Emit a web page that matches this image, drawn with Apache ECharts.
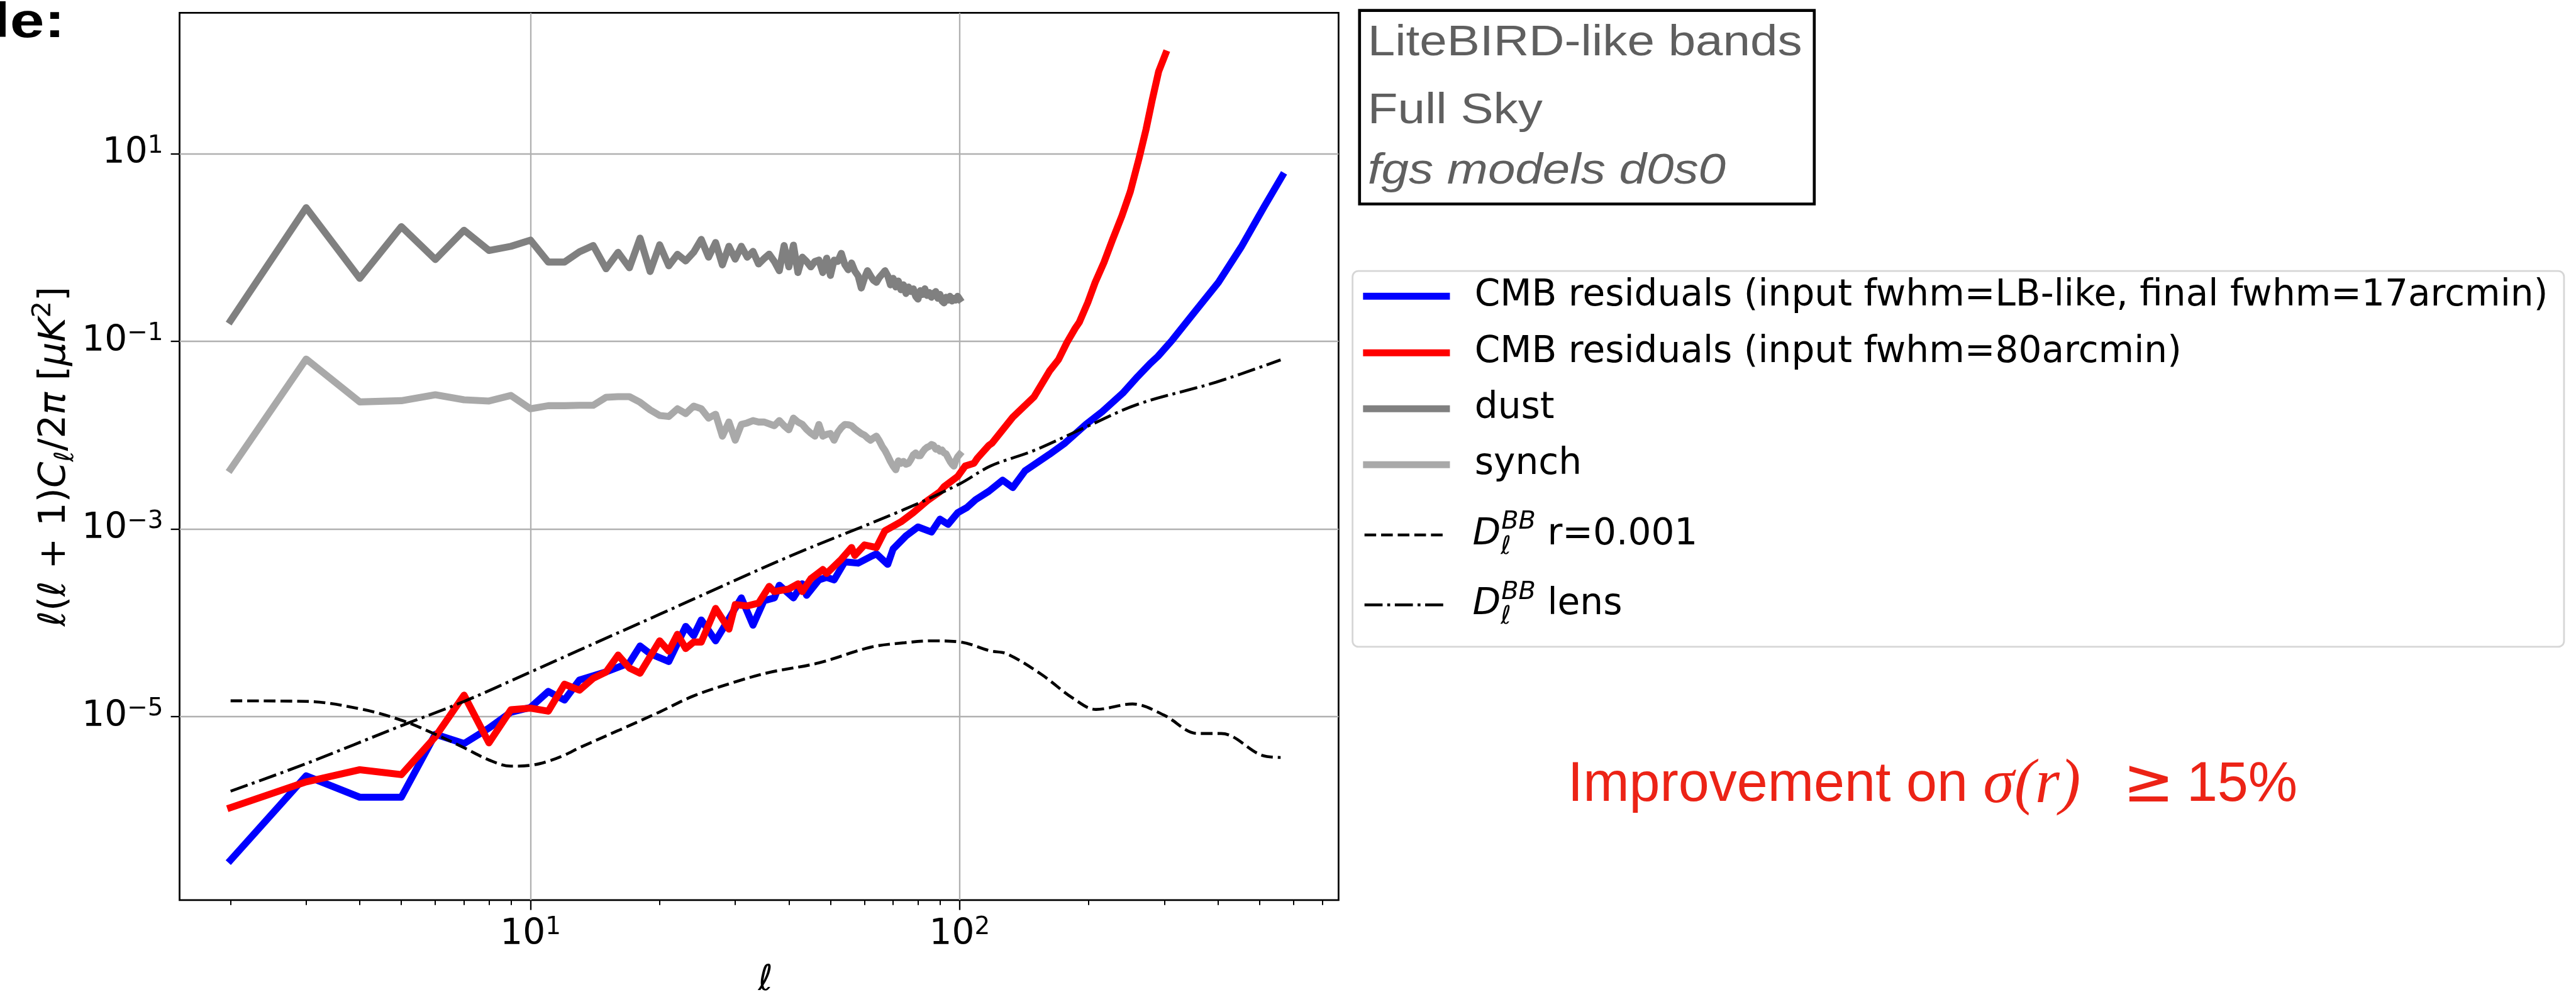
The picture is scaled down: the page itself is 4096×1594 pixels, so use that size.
<!DOCTYPE html>
<html>
<head>
<meta charset="utf-8">
<script src="https://cdn.jsdelivr.net/npm/echarts@6/dist/echarts.min.js"></script>
<style>
  html, body { margin: 0; padding: 0; background: #ffffff; }
  #chart { width: 4096px; height: 1594px; }
</style>
</head>
<body>
<div id="chart"></div>
<script>
// ---------------------------------------------------------------------------
// BB power spectra: CMB residuals vs. foregrounds and theory curves
// ---------------------------------------------------------------------------

// Foreground spectra are given at every multipole 2..100
const fgEll = [];
for (let l = 2; l <= 100; l++) fgEll.push(l);

const dustVal = [0.166, 2.66, 0.469, 1.67, 0.745, 1.53, 0.931, 1.03, 1.20, 0.70,
  0.70, 0.90, 1.05, 0.594, 0.889, 0.608, 1.26, 0.556, 1.07, 0.638,
  0.847, 0.72, 0.89, 1.22, 0.79, 1.13, 0.653, 1.03, 0.753, 1.03,
  0.79, 0.91, 0.668, 0.76, 0.85, 0.71, 0.566, 1.05, 0.622, 1.06,
  0.541, 0.79, 0.71, 0.622, 0.71, 0.736, 0.541, 0.77, 0.504, 0.734,
  0.71, 0.867, 0.66, 0.58, 0.684, 0.56, 0.50, 0.37, 0.47, 0.566,
  0.50, 0.447, 0.426, 0.48, 0.52, 0.566, 0.50, 0.40, 0.47, 0.38,
  0.44, 0.355, 0.40, 0.324, 0.38, 0.34, 0.363, 0.302, 0.282, 0.347,
  0.316, 0.363, 0.309, 0.331, 0.295, 0.324, 0.339, 0.288, 0.316, 0.269,
  0.257, 0.295, 0.275, 0.302, 0.269, 0.288, 0.275, 0.302, 0.282];

const synchVal = [0.00434, 0.0647, 0.0226, 0.0233, 0.0269, 0.0238, 0.0231, 0.0265, 0.0191, 0.0206,
  0.0206, 0.0208, 0.0208, 0.0253, 0.0257, 0.0257, 0.0224, 0.0186, 0.0162, 0.0158,
  0.0191, 0.0170, 0.0204, 0.0191, 0.0152, 0.0167, 0.00975, 0.0138, 0.00883, 0.0130,
  0.0135, 0.0143, 0.0138, 0.0138, 0.0132, 0.0126, 0.0143, 0.0126, 0.0114, 0.0152,
  0.0138, 0.0130, 0.0115, 0.0105, 0.00975, 0.0130, 0.00975, 0.0102, 0.0104, 0.00883,
  0.0107, 0.0120, 0.0130, 0.0129, 0.0126, 0.0117, 0.0110, 0.0104, 0.0100, 0.00933,
  0.00883, 0.00933, 0.00975, 0.00871, 0.00759, 0.00686, 0.00603, 0.00525, 0.00468, 0.00428,
  0.00532, 0.00501, 0.00525, 0.00490, 0.00501, 0.00550, 0.00617, 0.00646, 0.00603, 0.00604,
  0.00661, 0.00708, 0.00741, 0.00759, 0.00794, 0.00776, 0.00708, 0.00724, 0.00676, 0.00692,
  0.00646, 0.00631, 0.00575, 0.00525, 0.00490, 0.00468, 0.00537, 0.00589, 0.00622];

// CMB residuals, input fwhm = LB-like, final fwhm = 17 arcmin
const blueEll = [2, 3, 4, 5, 6, 7, 8, 9, 10, 11, 12, 13,
  15, 17, 18, 19, 21, 23, 24, 25, 27, 29,
  31, 33, 35, 37, 38, 41, 43, 44, 47, 49,
  51, 54, 58, 62, 64, 68, 70, 75, 80, 86,
  90, 94, 99, 104, 109, 117, 126, 133, 142, 162,
  176, 197, 215, 240, 260, 278, 290, 313, 354, 401,
  453, 512, 565];
const blueVal = [2.95e-7, 2.33e-6, 1.38e-6, 1.38e-6, 6.47e-6, 5.15e-6, 7.52e-6, 1.11e-5, 1.25e-5, 1.85e-5, 1.50e-5, 2.45e-5,
  2.99e-5, 3.73e-5, 5.65e-5, 4.68e-5, 3.86e-5, 9.14e-5, 7.28e-5, 1.07e-4, 6.41e-5, 1.10e-4,
  1.84e-4, 9.42e-5, 1.72e-4, 1.84e-4, 2.51e-4, 1.84e-4, 2.60e-4, 1.96e-4, 2.86e-4, 3.05e-4,
  2.86e-4, 4.46e-4, 4.32e-4, 5.06e-4, 5.42e-4, 4.19e-4, 6.12e-4, 8.43e-4, 1.05e-3, 9.27e-4,
  1.27e-3, 1.12e-3, 1.49e-3, 1.69e-3, 2.05e-3, 2.52e-3, 3.31e-3, 2.76e-3, 4.15e-3, 6.25e-3,
  8.22e-3, 0.0130, 0.0178, 0.0280, 0.0421, 0.058, 0.0693, 0.103, 0.209, 0.425,
  1.01, 2.70, 5.81];

// CMB residuals, input fwhm = 80 arcmin
const redEll = [2, 3, 4, 5, 6, 7, 8, 9, 10, 11, 12, 13, 14, 15, 16, 17, 18,
  20, 21, 22, 23, 24, 25, 27, 29, 30, 32,
  34, 36, 37, 40, 42, 43, 45, 48, 49, 53,
  56, 57, 60, 64, 67, 73, 78, 84, 90, 92,
  99, 103, 108, 110, 117, 119, 133, 149, 162, 170,
  178, 186, 190, 199, 207, 217, 227, 239, 250, 262,
  272, 281, 291, 302];
const redVal = [1.07e-6, 2.01e-6, 2.71e-6, 2.40e-6, 6.08e-6, 1.69e-5, 5.24e-6, 1.18e-5, 1.23e-5, 1.14e-5, 2.21e-5, 1.91e-5, 2.56e-5, 2.99e-5, 4.52e-5, 3.29e-5, 2.90e-5,
  6.41e-5, 4.98e-5, 7.52e-5, 5.31e-5, 6.22e-5, 6.22e-5, 1.42e-4, 8.55e-5, 1.56e-4, 1.51e-4,
  1.62e-4, 2.44e-4, 2.15e-4, 2.29e-4, 2.60e-4, 2.15e-4, 2.94e-4, 3.69e-4, 3.35e-4, 4.75e-4,
  6.34e-4, 5.22e-4, 6.75e-4, 6.34e-4, 9.57e-4, 1.19e-3, 1.49e-3, 1.99e-3, 2.49e-3, 2.82e-3,
  3.63e-3, 4.68e-3, 5.01e-3, 5.68e-3, 7.78e-3, 8.22e-3, 0.0155, 0.0255, 0.0482, 0.0638,
  0.0977, 0.138, 0.159, 0.260, 0.425, 0.693, 1.20, 2.18, 3.96, 8.97,
  18.2, 37.1, 75.2, 116];

// Primordial tensor BB, r = 0.001
const tensEll = [2, 3, 4, 5, 6, 7, 8, 9, 10, 11, 12, 13, 16, 20, 24, 30, 36, 47, 62, 74, 86, 100,
  118, 129, 155, 184, 208, 253, 299, 359, 407, 509, 560];
const tensVal = [1.47e-5, 1.45e-5, 1.21e-5, 9.14e-6, 6.47e-6, 4.65e-6, 3.44e-6, 2.96e-6, 3.02e-6, 3.34e-6, 3.88e-6, 4.65e-6,
  7.08e-6, 1.12e-5, 1.66e-5, 2.34e-5, 2.95e-5, 3.73e-5, 5.48e-5, 6.10e-5, 6.41e-5, 6.24e-5,
  5.01e-5, 4.65e-5, 2.82e-5, 1.56e-5, 1.19e-5, 1.36e-5, 1.04e-5, 6.59e-6, 6.59e-6, 3.83e-6, 3.66e-6];

// Lensing BB
const lensEll = [2, 3, 5, 7, 10, 13, 20, 40, 74, 100, 118, 149, 200, 260, 396, 560];
const lensVal = [1.60e-6, 3.15e-6, 7.98e-6, 1.45e-5, 2.98e-5, 5.11e-5, 1.23e-4, 5.06e-4, 1.60e-3, 3.02e-3,
  4.68e-3, 6.85e-3, 1.26e-2, 0.0213, 0.0367, 0.0634];

// Axis ticks
const xMajorTicks = [10, 100];
const xMinorTicks = [2, 3, 4, 5, 6, 7, 8, 9, 20, 30, 40, 50, 60, 70, 80, 90, 200, 300, 400, 500, 600, 700];
const yMajorTicks = [1e-5, 1e-3, 1e-1, 10];

// Series names (legend entries)
const seriesNames = [
  'CMB residuals (input fwhm=LB-like, final fwhm=17arcmin)',
  'CMB residuals (input fwhm=80arcmin)',
  'dust',
  'synch',
  'D_l^BB r=0.001',
  'D_l^BB lens'
];

// ---------------------------------------------------------------------------
const S = 0.927;                     // layout scale
const px = v => v * S;
const pairs = (xs, ys) => xs.map((x, i) => [x, ys[i]]);

const MONO = 'DejaVu Sans';
const SANS = 'Liberation Sans';

const plotL = px(308), plotT = px(22), plotR = px(2296), plotB = px(1552);
const xMin = Math.pow(10, 0.18207), xMax = Math.pow(10, 2.8832);
const yMin = Math.pow(10, -6.957), yMax = Math.pow(10, 2.5023);

const lw = px(12);
const thinLw = px(5);
const dashPattern = [px(20), px(8.5)];
const dashDotPattern = [px(31), px(8), px(5), px(8)];

function powLabel(v) {
  const e = Math.round(Math.log10(v));
  const s = e < 0 ? '\u2212' + (-e) : String(e);
  return '{b|10}{s|' + s + '}';
}
const tickRich = {
  b: { fontFamily: MONO, fontSize: px(61), lineHeight: px(68), color: '#000' },
  s: { fontFamily: MONO, fontSize: px(42), lineHeight: px(38), verticalAlign: 'top', color: '#000' }
};

const legendRows = [517, 614, 710, 806, 918, 1038];
const legendRich = {
  gap: { width: px(43), fontSize: px(62) },
  t: { fontFamily: MONO, fontSize: px(62.7), lineHeight: px(86), color: '#000' },
  D: { fontFamily: MONO, fontStyle: 'italic', fontSize: px(62.7), lineHeight: px(86), color: '#000' },
  sub: { fontFamily: MONO, fontStyle: 'italic', fontSize: px(43), lineHeight: px(43), verticalAlign: 'bottom', width: 1, color: '#000' },
  sup: { fontFamily: MONO, fontStyle: 'italic', fontSize: px(43), lineHeight: px(43), verticalAlign: 'top', color: '#000' }
};
function legendText(name) {
  if (name === seriesNames[4]) return '{gap| }{D|D}{sub|\u2113}{sup|BB}{t| r=0.001}';
  if (name === seriesNames[5]) return '{gap| }{D|D}{sub|\u2113}{sup|BB}{t| lens}';
  return '{gap| }{t|' + name + '}';
}
const legendLineWidth = [lw, lw, lw, lw, thinLw, thinLw];
const legends = seriesNames.map((name, i) => ({
  data: [name],
  left: px(2338),
  top: px(legendRows[i]) - px(43),
  padding: 0,
  itemWidth: px(137),
  itemHeight: px(86),
  selectedMode: false,
  z: 10,
  itemStyle: { opacity: 0, borderWidth: 0 },
  lineStyle: { width: legendLineWidth[i], type: 'inherit', color: 'inherit', opacity: 1 },
  formatter: legendText,
  textStyle: { rich: legendRich }
}));

const lineCommon = {
  type: 'line',
  showSymbol: false,
  symbol: 'none',
  silent: true,
  animation: false
};

const option = {
  animation: false,
  backgroundColor: '#ffffff',
  grid: {
    left: plotL, top: plotT, width: plotR - plotL, height: plotB - plotT,
    show: true, borderColor: '#000', borderWidth: px(3), backgroundColor: 'transparent'
  },
  xAxis: [{
    type: 'log', logBase: 10, min: xMin, max: xMax, position: 'bottom',
    axisLine: { show: false },
    axisTick: { show: true, customValues: xMajorTicks, length: px(17), lineStyle: { color: '#000', width: px(2.5) } },
    axisLabel: { customValues: xMajorTicks, formatter: powLabel, rich: tickRich, margin: px(26) },
    splitLine: { show: true, lineStyle: { color: '#b0b0b0', width: px(2.5) } },
    name: '\u2113', nameLocation: 'middle', nameGap: px(108),
    nameTextStyle: { fontFamily: MONO, fontStyle: 'italic', fontSize: px(61), color: '#000', padding: [0, 0, 0, px(22)] }
  }, {
    type: 'log', logBase: 10, min: xMin, max: xMax, position: 'bottom',
    axisLine: { show: false },
    axisTick: { show: true, customValues: xMinorTicks, length: px(8.5), lineStyle: { color: '#000', width: px(2.2) } },
    axisLabel: { show: false },
    splitLine: { show: false }
  }],
  yAxis: {
    type: 'log', logBase: 10, min: yMin, max: yMax,
    axisLine: { show: false },
    axisTick: { show: true, customValues: yMajorTicks, length: px(15), lineStyle: { color: '#000', width: px(2.5) } },
    axisLabel: { customValues: yMajorTicks, formatter: powLabel, rich: tickRich, margin: px(28) },
    splitLine: { show: true, lineStyle: { color: '#b0b0b0', width: px(2.5) } },
    name: '{i|\u2113}{n|(}{i|\u2113}{n| + 1)}{i|C}{sb|\u2113}{n|/2}{i|\u03c0}{n| [}{i|\u03bcK}{sp|2}{n|]}',
    nameLocation: 'middle', nameRotate: 90, nameGap: px(172),
    nameTextStyle: {
      rich: {
        i: { fontFamily: MONO, fontStyle: 'italic', fontSize: px(64), lineHeight: px(84), color: '#000' },
        n: { fontFamily: MONO, fontSize: px(64), lineHeight: px(84), color: '#000' },
        sb: { fontFamily: MONO, fontStyle: 'italic', fontSize: px(45), lineHeight: px(43), verticalAlign: 'bottom', color: '#000' },
        sp: { fontFamily: MONO, fontSize: px(45), lineHeight: px(43), verticalAlign: 'top', color: '#000' }
      }
    }
  },
  legend: legends,
  series: [
    Object.assign({}, lineCommon, {
      name: seriesNames[0], data: pairs(blueEll, blueVal), z: 2,
      itemStyle: { color: '#0000ff' },
      lineStyle: { color: '#0000ff', width: lw, join: 'round', cap: 'square' }
    }),
    Object.assign({}, lineCommon, {
      name: seriesNames[1], data: pairs(redEll, redVal), z: 3,
      itemStyle: { color: '#ff0000' },
      lineStyle: { color: '#ff0000', width: lw, join: 'round', cap: 'square' }
    }),
    Object.assign({}, lineCommon, {
      name: seriesNames[2], data: pairs(fgEll, dustVal), z: 4,
      itemStyle: { color: '#808080' },
      lineStyle: { color: '#808080', width: lw, join: 'round', cap: 'square' }
    }),
    Object.assign({}, lineCommon, {
      name: seriesNames[3], data: pairs(fgEll, synchVal), z: 5,
      itemStyle: { color: '#a9a9a9' },
      lineStyle: { color: '#a9a9a9', width: lw, join: 'round', cap: 'square' }
    }),
    Object.assign({}, lineCommon, {
      name: seriesNames[4], data: pairs(tensEll, tensVal), z: 6, smooth: 0.35,
      itemStyle: { color: '#000' },
      lineStyle: { color: '#000', width: thinLw, type: dashPattern }
    }),
    Object.assign({}, lineCommon, {
      name: seriesNames[5], data: pairs(lensEll, lensVal), z: 7, smooth: 0.35,
      itemStyle: { color: '#000' },
      lineStyle: { color: '#000', width: thinLw, type: dashDotPattern }
    })
  ],
  graphic: [
    // legend frame
    {
      type: 'rect', z: 1,
      shape: { x: px(2320), y: px(465), width: px(2078), height: px(645), r: px(10) },
      style: { fill: '#ffffff', stroke: '#d6d6d6', lineWidth: px(3) }
    },
    // info box
    {
      type: 'rect', z: 1,
      shape: { x: px(2332), y: px(18), width: px(780), height: px(332) },
      style: { fill: '#ffffff', stroke: '#000000', lineWidth: px(5) }
    },
    {
      type: 'text', z: 2, x: px(2346), y: px(97) - px(74) * 0.30, scaleX: 1.14,
      style: { text: 'LiteBIRD-like bands', x: 0, y: 0, fontFamily: SANS, fontSize: px(74), fill: '#5f5f5f', align: 'left', verticalAlign: 'middle' }
    },
    {
      type: 'text', z: 2, x: px(2346), y: px(213) - px(74) * 0.30, scaleX: 1.14,
      style: { text: 'Full Sky', x: 0, y: 0, fontFamily: SANS, fontSize: px(74), fill: '#5f5f5f', align: 'left', verticalAlign: 'middle' }
    },
    {
      type: 'text', z: 2, x: px(2346), y: px(317) - px(74) * 0.30, scaleX: 1.14,
      style: { text: 'fgs models d0s0', x: 0, y: 0, fontFamily: SANS, fontStyle: 'italic', fontSize: px(74), fill: '#5f5f5f', align: 'left', verticalAlign: 'middle' }
    },
    // slide heading fragment
    {
      type: 'text', z: 2, x: px(-12.5), y: px(67) - px(83) * 0.32, scaleX: 1.28,
      style: { text: 'le:', x: 0, y: 0, fontFamily: SANS, fontWeight: 'bold', fontSize: px(83), fill: '#000', align: 'left', verticalAlign: 'middle' }
    },
    // result note
    {
      type: 'text', z: 2, x: px(2689), y: px(1378) - px(95) * 0.32,
      style: {
        text: '{a|Improvement on }{m|\u03c3(r)}{ge|\u2265}{a|15%}', x: 0, y: 0,
        align: 'left', verticalAlign: 'middle',
        rich: {
          a: { fontFamily: SANS, fontSize: px(95), fill: '#ec2316' },
          m: { fontFamily: 'Liberation Serif', fontStyle: 'italic', fontSize: px(108), fill: '#ec2316', width: px(240) },
          ge: { fontFamily: 'DejaVu Sans', fontSize: px(105), fill: '#ec2316', width: px(109) }
        }
      }
    }
  ]
};

const chart = echarts.init(document.getElementById('chart'), null, { renderer: 'canvas' });
chart.setOption(option);
</script>
</body>
</html>
